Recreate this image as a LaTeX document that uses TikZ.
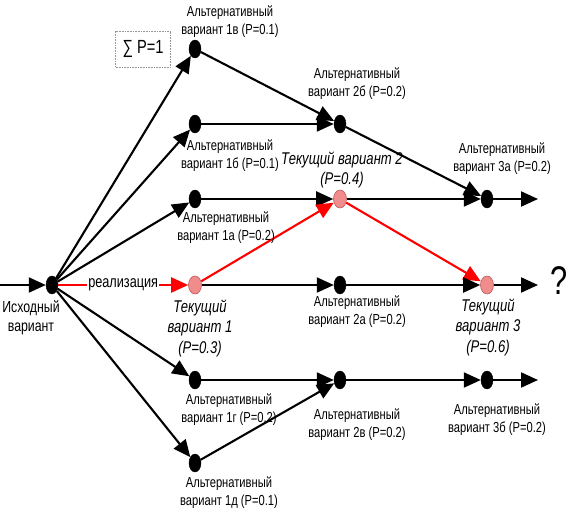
\documentclass[tikz,border=0pt]{standalone}
\usepackage{fontspec}
\setmainfont{Liberation Sans}[FakeStretch=0.77]
\usetikzlibrary{arrows.meta,shapes.geometric}
\begin{document}
\begin{tikzpicture}[x=1pt,y=-1pt,
  dotnode/.style={ellipse,fill=black,draw=black,minimum width=12pt,minimum height=18pt,inner sep=0pt},
  curnode/.style={ellipse,fill={rgb,255:red,240;green,140;blue,140},draw={rgb,255:red,190;green,90;blue,90},line width=0.6pt,minimum width=13pt,minimum height=18pt,inner sep=0pt},
  lab/.style={align=center,font=\fontsize{14.5}{18}\selectfont,inner sep=0pt},
  curlab/.style={align=center,font=\fontsize{17}{20.5}\selectfont\itshape,inner sep=0pt},
  arr/.style={line width=2.1pt,-{Triangle[length=17pt,width=15pt]}},
  rarr/.style={arr,red},
  ln/.style={line width=2.1pt}
]
\useasboundingbox (0,0) rectangle (567,511);

% nodes
\node[dotnode] (S) at (52,285) {};
\node[dotnode] (a1v) at (195,49) {};
\node[dotnode] (a1b) at (195,124) {};
\node[dotnode] (a1a) at (195,199) {};
\node[curnode] (T1) at (195,285) {};
\node[dotnode] (a1g) at (195,380) {};
\node[dotnode] (a1d) at (195,463) {};
\node[dotnode] (a2b) at (340,124) {};
\node[curnode] (T2) at (340,199) {};
\node[dotnode] (a2a) at (340,285) {};
\node[dotnode] (a2v) at (340,380) {};
\node[dotnode] (a3a) at (487,199) {};
\node[curnode] (T3) at (487,285) {};
\node[dotnode] (a3b) at (487,380) {};
\coordinate (in) at (0,285);
\coordinate (o1) at (538,199);
\coordinate (o2) at (538,285);
\coordinate (o3) at (538,380);

% connectors
\draw[arr] (in) -- (S);
\draw[arr] (S) -- (a1v);
\draw[arr] (S) -- (a1b);
\draw[arr] (S) -- (a1a);
\draw[arr] (S) -- (a1g);
\draw[arr] (S) -- (a1d);
\draw[rarr] (S) -- node[fill=white,text=black,inner sep=1pt,font=\fontsize{16.5}{16.5}\selectfont] (real) {реализация} (T1);
\draw[arr] (a1v) -- (a2b);
\draw[arr] (a1b) -- (a2b);
\draw[arr] (a1a) -- (T2);
\draw[rarr] (T1) -- (T2);
\draw[arr] (T1) -- (a2a);
\draw[arr] (a1g) -- (a2v);
\draw[arr] (a1d) -- (a2v);
\draw[arr] (a2b) -- (a3a);
\draw[arr] (T2) -- (a3a);
\draw[rarr] (T2) -- (T3);
\draw[arr] (a2a) -- (T3);
\draw[arr] (a2v) -- (a3b);
\draw[arr] (a3a) -- (o1);
\draw[arr] (T3) -- (o2);
\draw[arr] (a3b) -- (o3);

% labels
\node[lab] (l1v) at (230,22) {Альтернативный\\вариант 1в (P=0.1)};
\node[lab] (l1b) at (230,156) {Альтернативный\\вариант 1б (P=0.1)};
\node[lab] (l1a) at (226,228) {Альтернативный\\вариант 1а (P=0.2)};
\node[lab] (l1g) at (229,410) {Альтернативный\\вариант 1г (P=0.2)};
\node[lab] (l1d) at (229,493) {Альтернативный\\вариант 1д (P=0.1)};
\node[lab] (l2b) at (357,84) {Альтернативный\\вариант 2б (P=0.2)};
\node[lab] (l2a) at (357,312) {Альтернативный\\вариант 2а (P=0.2)};
\node[lab] (l2v) at (357,425) {Альтернативный\\вариант 2в (P=0.2)};
\node[lab] (l3a) at (502,159) {Альтернативный\\вариант 3а (P=0.2)};
\node[lab] (l3b) at (497,420) {Альтернативный\\вариант 3б (P=0.2)};
\node[curlab] (lT1) at (200,328) {Текущий\\вариант 1\\(P=0.3)};
\node[curlab] (lT2) at (342,170) {Текущий вариант 2\\(P=0.4)};
\node[curlab] (lT3) at (488,327) {Текущий\\вариант 3\\(P=0.6)};
\node[align=center,inner sep=0pt,font=\fontsize{16}{19}\selectfont] (lS) at (31,318) {Исходный\\вариант};
\node[font=\fontsize{40}{40}\selectfont,inner sep=0pt] (q) at (559,281) {?};
\node[draw={rgb,255:red,150;green,150;blue,150},densely dotted,line width=0.6pt,minimum width=55pt,minimum height=36pt,inner sep=0pt,font=\fontsize{19}{19}\selectfont] (sum) at (143,49) {∑ P=1};
\end{tikzpicture}
\end{document}
